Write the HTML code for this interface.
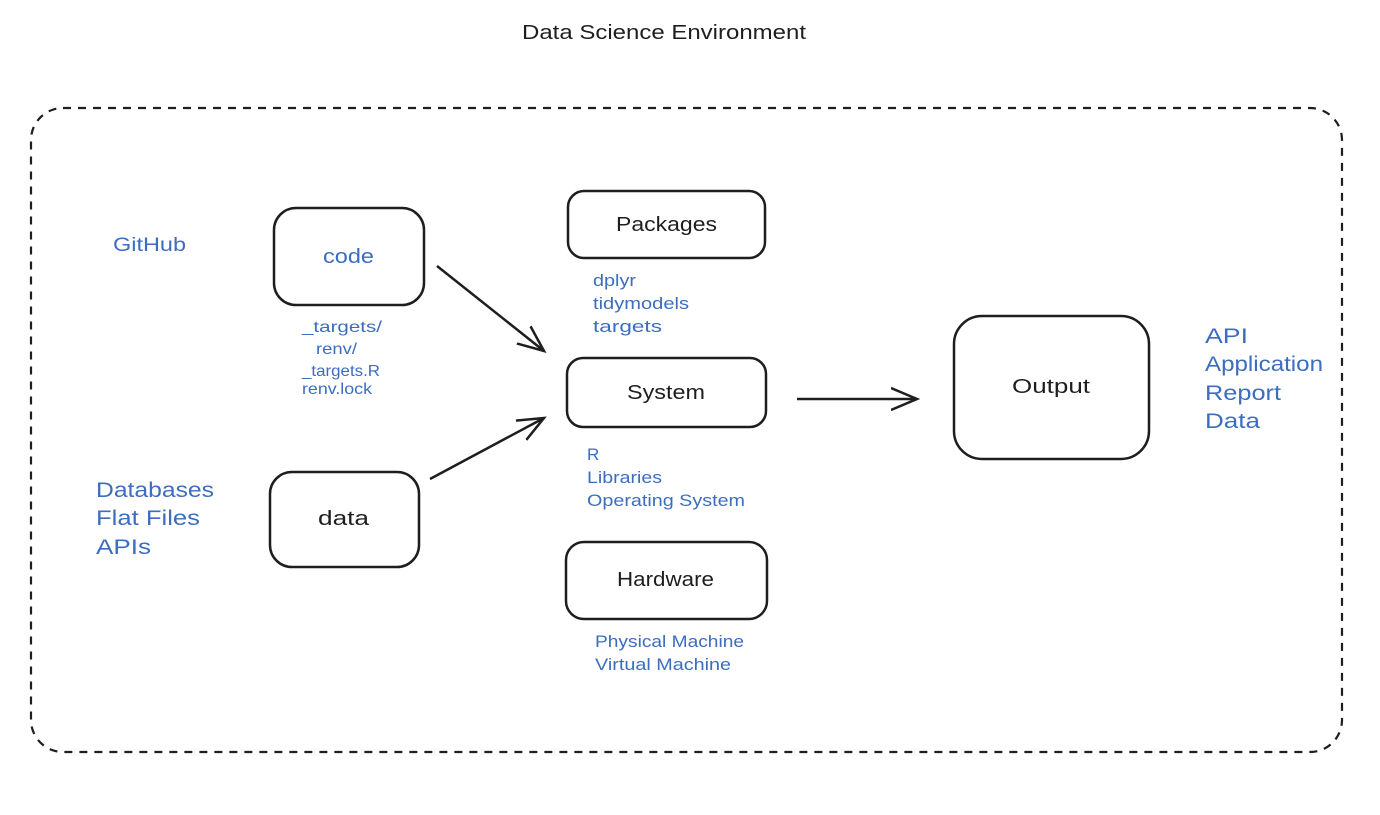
<!DOCTYPE html>
<html><head><meta charset="utf-8"><style>
body{margin:0;width:1380px;height:810px;background:#fff;overflow:hidden}
svg text{font-family:"Liberation Sans",sans-serif}
.b{fill:#3c6dbf}
.k{fill:#1e1e1e}
</style></head><body>
<svg width="1380" height="810" viewBox="0 0 1380 810" xmlns="http://www.w3.org/2000/svg">
<defs>
<marker id="a2" markerWidth="30" markerHeight="30" refX="26" refY="13" orient="auto" markerUnits="userSpaceOnUse"><path d="M0,2 L26,13 L0,24" fill="none" stroke="#1e1e1e" stroke-width="2.5"/></marker></defs>
<text x="522" y="39" font-size="20" class="k" textLength="284" lengthAdjust="spacingAndGlyphs">Data Science Environment</text>
<rect x="31" y="108" width="1311" height="644" rx="32" fill="none" stroke="#1e1e1e" stroke-width="2.2" stroke-dasharray="8 7"/>
<g fill="none" stroke="#1e1e1e" stroke-width="2.5">
<rect x="274" y="208" width="150" height="97" rx="22"/>
<rect x="270" y="472" width="149" height="95" rx="22"/>
<rect x="568" y="191" width="197" height="67" rx="16"/>
<rect x="567" y="358" width="199" height="69" rx="16"/>
<rect x="566" y="542" width="201" height="77" rx="18"/>
<rect x="954" y="316" width="195" height="143" rx="28"/>
<line x1="437" y1="266" x2="544" y2="351" marker-end="url(#a2)"/>
<line x1="430" y1="479" x2="544" y2="418" marker-end="url(#a2)"/>
<line x1="797" y1="399" x2="917" y2="399" marker-end="url(#a2)"/>
</g>
<g font-size="20" lengthAdjust="spacingAndGlyphs">
<text x="323" y="263" class="b" textLength="51" lengthAdjust="spacingAndGlyphs">code</text>
<text x="318" y="525" class="k" textLength="51" lengthAdjust="spacingAndGlyphs">data</text>
<text x="616" y="231" class="k" textLength="101" lengthAdjust="spacingAndGlyphs">Packages</text>
<text x="627" y="399" class="k" textLength="78" lengthAdjust="spacingAndGlyphs">System</text>
<text x="617" y="586" class="k" textLength="97" lengthAdjust="spacingAndGlyphs">Hardware</text>
<text x="1012" y="393" class="k" textLength="78" lengthAdjust="spacingAndGlyphs">Output</text>
</g>
<text x="113" y="251" font-size="19" class="b" textLength="73" lengthAdjust="spacingAndGlyphs">GitHub</text>
<g font-size="16" class="b">
<text x="302" y="332" textLength="80" lengthAdjust="spacingAndGlyphs">_targets/</text>
<text x="316" y="354" textLength="41" lengthAdjust="spacingAndGlyphs">renv/</text>
<text x="302" y="376" textLength="78" lengthAdjust="spacingAndGlyphs">_targets.R</text>
<text x="302" y="394" textLength="70" lengthAdjust="spacingAndGlyphs">renv.lock</text></g>
<g font-size="21" class="b">
<text x="96" y="497" textLength="118" lengthAdjust="spacingAndGlyphs">Databases</text>
<text x="96" y="525" textLength="104" lengthAdjust="spacingAndGlyphs">Flat Files</text>
<text x="96" y="554" textLength="55" lengthAdjust="spacingAndGlyphs">APIs</text></g>
<g font-size="17" class="b">
<text x="593" y="286" textLength="43" lengthAdjust="spacingAndGlyphs">dplyr</text>
<text x="593" y="309" textLength="96" lengthAdjust="spacingAndGlyphs">tidymodels</text>
<text x="593" y="332" textLength="69" lengthAdjust="spacingAndGlyphs">targets</text></g>
<g font-size="17" class="b">
<text x="587" y="460">R</text>
<text x="587" y="483" textLength="75" lengthAdjust="spacingAndGlyphs">Libraries</text>
<text x="587" y="506" textLength="158" lengthAdjust="spacingAndGlyphs">Operating System</text></g>
<g font-size="17" class="b">
<text x="595" y="647" textLength="149" lengthAdjust="spacingAndGlyphs">Physical Machine</text>
<text x="595" y="670" textLength="136" lengthAdjust="spacingAndGlyphs">Virtual Machine</text></g>
<g font-size="21" class="b">
<text x="1205" y="343" textLength="43" lengthAdjust="spacingAndGlyphs">API</text>
<text x="1205" y="371" textLength="118" lengthAdjust="spacingAndGlyphs">Application</text>
<text x="1205" y="400" textLength="76" lengthAdjust="spacingAndGlyphs">Report</text>
<text x="1205" y="428" textLength="55" lengthAdjust="spacingAndGlyphs">Data</text></g>
</svg>
</body></html>
